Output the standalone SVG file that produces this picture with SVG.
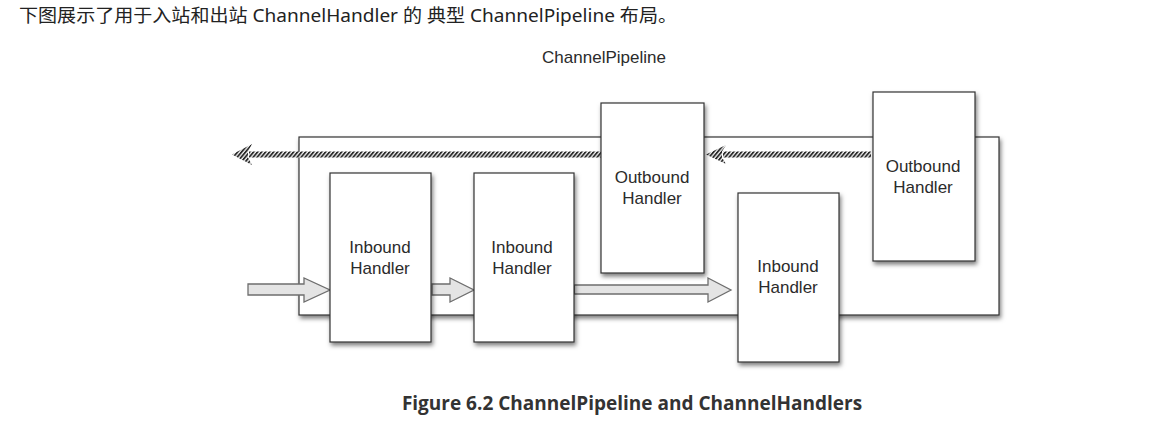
<svg xmlns="http://www.w3.org/2000/svg" width="1152" height="424" viewBox="0 0 1152 424">
<style>
  .box { fill: #ffffff; stroke: #333333; stroke-width: 1.2; }
  .lbl { font-family: "Liberation Sans", Arial, sans-serif; font-size: 17px; fill: #2b2b2b; text-anchor: middle; }
  .harrow { fill: #e4e4e4; stroke: #6e6e6e; stroke-width: 1.3; stroke-linejoin: miter; }
  .rope { fill: url(#ropePat); }
</style>
<defs>
  <filter id="sh" x="-10%" y="-10%" width="125%" height="125%">
    <feDropShadow dx="1.5" dy="3" stdDeviation="2" flood-color="#000" flood-opacity="0.5"/>
  </filter>
  <pattern id="ropePat" patternUnits="userSpaceOnUse" width="4" height="8" patternTransform="skewX(-40)">
    <rect width="4" height="8" fill="#efefef"/>
    <rect width="2.3" height="8" fill="#2a2a2a"/>
  </pattern>
</defs>
<rect width="1152" height="424" fill="#ffffff"/>

<text x="19" y="22" font-family="'Microsoft YaHei', 'Noto Sans', 'Noto Sans CJK SC', sans-serif" font-size="18" fill="#222222" textLength="658" lengthAdjust="spacingAndGlyphs">下图展示了用于入站和出站 ChannelHandler 的 典型 ChannelPipeline 布局。</text>

<text x="604" y="63" font-family="'Liberation Sans', Arial, sans-serif" font-size="17" fill="#2b2b2b" text-anchor="middle">ChannelPipeline</text>

<g id="pipeline">
  <rect x="299" y="137" width="700" height="178" class="box" filter="url(#sh)"/>
</g>

<g id="connectors">
  <!-- outbound (leftward) rope arrows -->
  <rect x="249" y="151.5" width="352" height="6" class="rope"/>
  <polygon points="232,154.5 252,144 248,151.5 248,157.5 252,165" class="rope"/>
  <rect x="723" y="151.5" width="148" height="6" class="rope"/>
  <polygon points="706,154.5 726,145 722,151.5 722,157.5 726,164" class="rope"/>
  <!-- inbound (rightward) hollow arrows -->
  <polygon points="248,284 304,284 304,278 330,290 304,302 304,295 248,295" class="harrow"/>
  <polygon points="432,284 450,284 450,278 474,290 450,302 450,295 432,295" class="harrow"/>
  <polygon points="573,285 708,285 708,278 731,290 708,302 708,294 573,294" class="harrow"/>
  <rect x="572" y="285" width="3" height="9" fill="#555555"/>
</g>

<g id="inbound1">
  <rect x="330" y="173" width="101" height="169" class="box" filter="url(#sh)"/>
  <text x="380" y="253" class="lbl">Inbound</text>
  <text x="380" y="274" class="lbl">Handler</text>
</g>
<g id="inbound2">
  <rect x="474" y="173" width="100" height="169" class="box" filter="url(#sh)"/>
  <text x="522" y="253" class="lbl">Inbound</text>
  <text x="522" y="274" class="lbl">Handler</text>
</g>
<g id="outbound1">
  <rect x="601" y="103" width="103" height="170" class="box" filter="url(#sh)"/>
  <text x="652" y="183" class="lbl">Outbound</text>
  <text x="652" y="204" class="lbl">Handler</text>
</g>
<g id="inbound3">
  <rect x="738" y="193" width="101" height="169" class="box" filter="url(#sh)"/>
  <text x="788" y="272" class="lbl">Inbound</text>
  <text x="788" y="293" class="lbl">Handler</text>
</g>
<g id="outbound2">
  <rect x="873" y="92" width="102" height="169" class="box" filter="url(#sh)"/>
  <text x="923" y="172" class="lbl">Outbound</text>
  <text x="923" y="193" class="lbl">Handler</text>
</g>

<text x="632" y="410" font-family="'Open Sans', 'Liberation Sans', sans-serif" font-weight="bold" font-size="19" fill="#333333" text-anchor="middle">Figure 6.2 ChannelPipeline and ChannelHandlers</text>
</svg>
